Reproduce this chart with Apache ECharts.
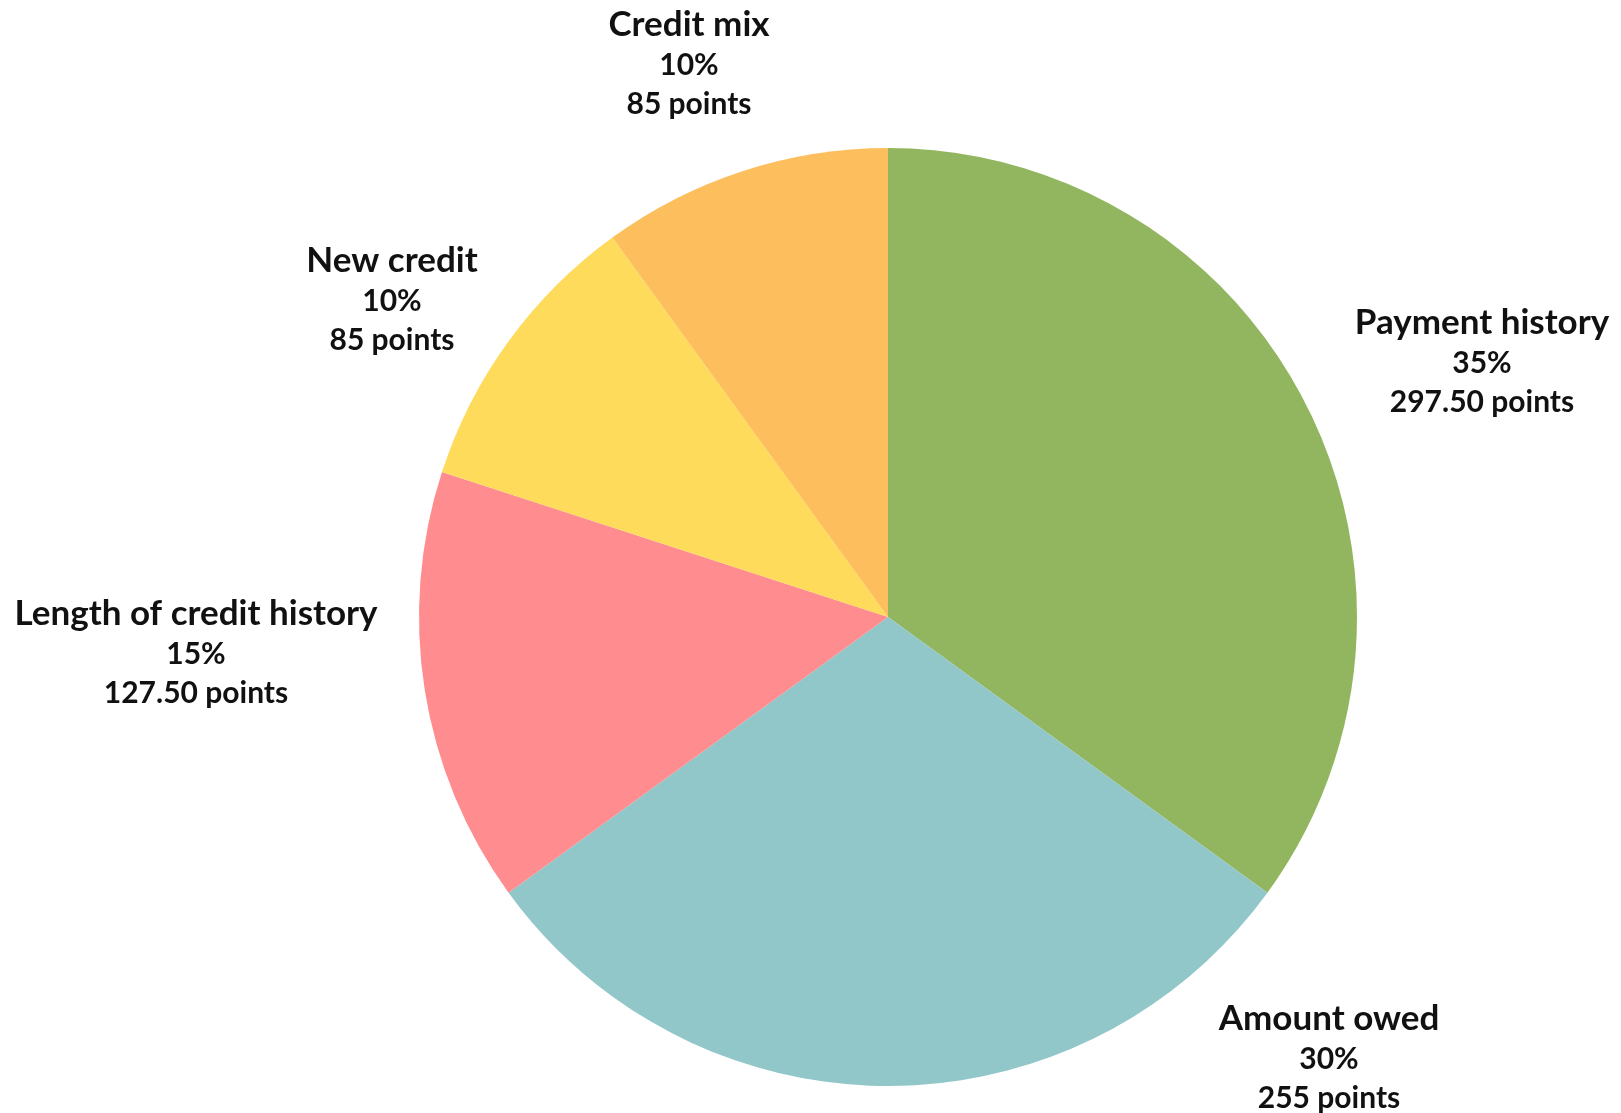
<!DOCTYPE html>
<html>
<head>
<meta charset="utf-8">
<style>
html,body{margin:0;padding:0;background:#fff;}
#chart{width:1621px;height:1113px;}
</style>
<script src="https://cdn.jsdelivr.net/npm/echarts@6/dist/echarts.min.js"></script>
</head>
<body>
<div id="chart"></div>
<script>
const categories = ['Payment history', 'Amount owed', 'Length of credit history', 'New credit', 'Credit mix'];
const percents = [35, 30, 15, 10, 10];
const points = [297.5, 255, 127.5, 85, 85];
const colors = ['#92B660', '#92C7C9', '#FF8C8E', '#FEDB5B', '#FDBF5D'];
// label anchor positions (pixels) for each slice
const labelX = [1482, 1329, 196, 392, 689];
const labelY = [362, 1058, 653, 300, 64];

const fmtPts = p => (Number.isInteger(p) ? String(p) : p.toFixed(2)) + ' points';
const FONT = 'Lato, "Open Sans", sans-serif';

const chart = echarts.init(document.getElementById('chart'));
chart.setOption({
  backgroundColor: '#ffffff',
  animation: false,
  series: [{
    type: 'pie',
    center: [888, 617],
    radius: [0, 469],
    startAngle: 90,
    clockwise: true,
    data: categories.map((c, i) => ({
      name: c,
      value: percents[i],
      itemStyle: { color: colors[i] }
    })),
    label: {
      show: true,
      position: 'outside',
      formatter: p => '{t|' + p.name + '}\n{v|' + p.value + '%}\n{v|' + fmtPts(points[p.dataIndex]) + '}',
      fontFamily: FONT,
      fontWeight: 'bold',
      color: '#111',
      align: 'center',
      verticalAlign: 'middle',
      rich: {
        t: { fontFamily: FONT, fontWeight: 'bold', fontSize: 35, lineHeight: 42, color: '#111', align: 'center' },
        v: { fontFamily: FONT, fontWeight: 'bold', fontSize: 30, lineHeight: 39, color: '#111', align: 'center' }
      }
    },
    labelLine: { show: false },
    labelLayout: function (params) {
      return {
        x: labelX[params.dataIndex],
        y: labelY[params.dataIndex],
        align: 'center',
        verticalAlign: 'middle'
      };
    },
    emphasis: { disabled: true }
  }]
});
</script>
</body>
</html>
